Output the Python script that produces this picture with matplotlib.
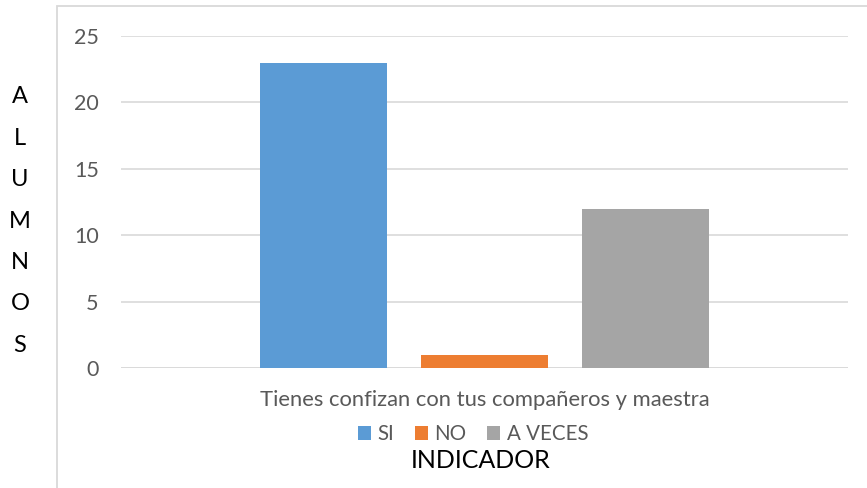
import matplotlib.pyplot as plt
from matplotlib.patches import Rectangle
import numpy as np

plt.rcParams['font.family'] = ['Lato', 'DejaVu Sans']

# Data
category = "Tienes confizan con tus compañeros y maestra"
series = ["SI", "NO", "A VECES"]
values = [23, 1, 12]
colors = ["#5b9bd5", "#ed7d31", "#a5a5a5"]
y_ticks = [0, 5, 10, 15, 20, 25]

W, H = 867, 488
fig = plt.figure(figsize=(W / 100, H / 100), dpi=100)

# outer chart border
fig.patches.append(Rectangle((57 / W, -0.01), 1.0, (H - 6) / H + 0.01,
                             transform=fig.transFigure, fill=False,
                             edgecolor="#d9d9d9", linewidth=1.3))

ax = fig.add_axes([121 / W, (H - 368) / H, (848 - 121) / W, (368 - 36) / H])

bar_w = 0.1747
step = 0.2215
offsets = (np.arange(len(series)) - 1) * step
for off, name, v, c in zip(offsets, series, values, colors):
    ax.bar(off, v, width=bar_w, color=c, label=name, zorder=3)

ax.set_xlim(-0.5, 0.5)
ax.set_ylim(0, 25)
ax.set_yticks(y_ticks)
ax.set_yticklabels([str(t) for t in y_ticks], color="#595959", fontsize=15.5)
ax.set_xticks([0])
ax.set_xticklabels([category], color="#595959", fontsize=15.8)
ax.tick_params(axis="y", length=0, pad=16)
ax.tick_params(axis="x", length=0, pad=16)
ax.grid(axis="y", color="#d9d9d9", linewidth=1.2, zorder=0)
for s in ax.spines.values():
    s.set_visible(False)
ax.axhline(0, color="#d9d9d9", linewidth=1.2, zorder=2)

leg = fig.legend(loc="center", bbox_to_anchor=(473 / W, (H - 434) / H), ncol=3,
                 frameon=False, fontsize=14.8, handlelength=0.65, handleheight=0.65,
                 handletextpad=0.3, columnspacing=1.0)
for t in leg.get_texts():
    t.set_color("#595959")

fig.text(481 / W, (H - 461) / H, "INDICADOR", ha="center", va="center",
         fontsize=18, color="black")
fig.text(20 / W, (H - 221) / H, "A\nL\nU\nM\nN\nO\nS", ha="center", va="center",
         fontsize=17, color="black", linespacing=2.2)

fig.savefig("out.png", dpi=100)
